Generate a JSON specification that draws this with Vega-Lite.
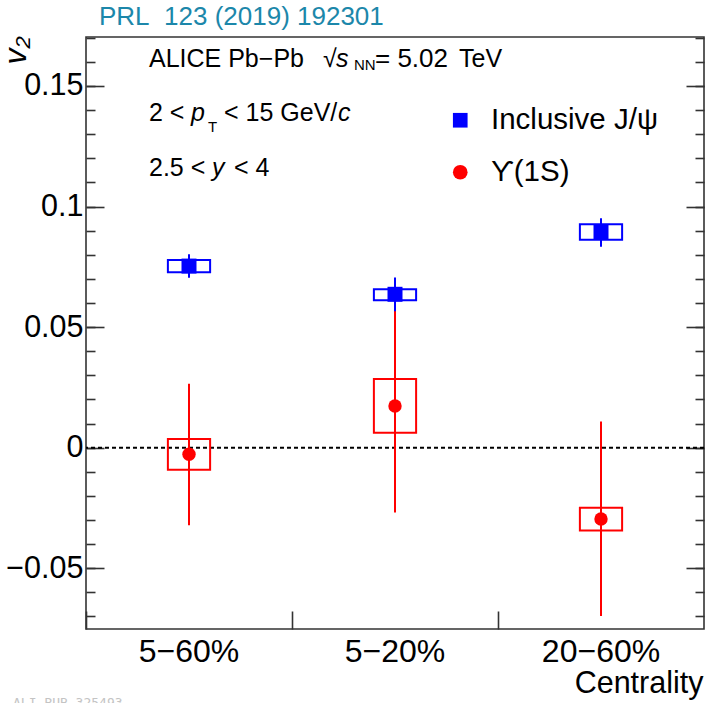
{
  "$schema": "https://vega.github.io/schema/vega-lite/v6.json",
  "width": 618,
  "height": 592,
  "autosize": {"type": "none"},
  "padding": {"left": 86, "top": 37, "right": 2, "bottom": 74},
  "background": "white",
  "config": {
    "font": "Liberation Sans",
    "view": {"stroke": "#333333", "strokeWidth": 1.6},
    "axis": {"domain": false, "grid": false, "tickColor": "#333333", "tickWidth": 1.6, "labelFont": "Liberation Sans", "titleFont": "Liberation Sans", "labelColor": "black", "titleColor": "black"},
    "legend": {"labelFont": "Liberation Sans", "labelColor": "black"}
  },
  "title": {"text": "PRL\u00a0 123 (2019) 192301", "anchor": "start", "frame": "group", "font": "Liberation Sans", "fontSize": 26, "fontWeight": "normal", "color": "#1c87aa", "dx": 13, "dy": 26, "offset": 11, "baseline": "alphabetic"},
  "data": {"values": [
    {"centrality": "5−60%", "particle": "ϒ(1S)", "v2": -0.0027, "stat_lo": -0.0322, "stat_hi": 0.0265, "sys_lo": -0.0092, "sys_hi": 0.0036},
    {"centrality": "5−20%", "particle": "ϒ(1S)", "v2": 0.0173, "stat_lo": -0.0269, "stat_hi": 0.0615, "sys_lo": 0.0062, "sys_hi": 0.0285},
    {"centrality": "20−60%", "particle": "ϒ(1S)", "v2": -0.0296, "stat_lo": -0.0698, "stat_hi": 0.0108, "sys_lo": -0.0344, "sys_hi": -0.0249},
    {"centrality": "5−60%", "particle": "Inclusive J/ψ", "v2": 0.0753, "stat_lo": 0.0705, "stat_hi": 0.0802, "sys_lo": 0.0727, "sys_hi": 0.0778},
    {"centrality": "5−20%", "particle": "Inclusive J/ψ", "v2": 0.0636, "stat_lo": 0.0566, "stat_hi": 0.0706, "sys_lo": 0.0611, "sys_hi": 0.0657},
    {"centrality": "20−60%", "particle": "Inclusive J/ψ", "v2": 0.0893, "stat_lo": 0.0833, "stat_hi": 0.0951, "sys_lo": 0.0862, "sys_hi": 0.0926}
  ]},
  "layer": [
    {
      "data": {"values": [{}]},
      "mark": {"type": "rule", "stroke": "black", "strokeWidth": 2, "strokeDash": [4, 3]},
      "encoding": {
        "y": {"datum": 0, "type": "quantitative", "scale": {"domain": [-0.0752, 0.1703], "nice": false, "zero": false},
              "axis": {"orient": "right", "values": [-0.07,-0.06,-0.05,-0.04,-0.03,-0.02,-0.01,0,0.01,0.02,0.03,0.04,0.05,0.06,0.07,0.08,0.09,0.1,0.11,0.12,0.13,0.14,0.15,0.16,0.17], "labels": false, "tickSize": -9, "title": null}}
      }
    },
    {
      "mark": {"type": "bar", "filled": false, "strokeWidth": 2, "width": {"band": 0.205}},
      "encoding": {
        "x": {"field": "centrality", "type": "nominal", "sort": ["5−60%", "5−20%", "20−60%"],
              "scale": {"type": "band", "domain": ["5−60%", "5−20%", "20−60%"], "paddingInner": 0, "paddingOuter": 0},
              "axis": {"orient": "bottom", "ticks": false, "labelAngle": 0, "labelFontSize": 32, "labelPadding": 32, "labelBaseline": "alphabetic", "title": "Centrality", "titleFontSize": 30.5, "titleFontWeight": "normal", "titleAnchor": "end", "titleAlign": "right", "titleBaseline": "alphabetic", "titleX": 617, "titleY": 63}},
        "y": {"field": "sys_lo", "type": "quantitative", "scale": {"domain": [-0.0752, 0.1703], "nice": false, "zero": false},
              "axis": {"orient": "left", "values": [-0.05, 0, 0.05, 0.1, 0.15], "ticks": false, "format": ".2~f", "labelFontSize": 30.5, "labelPadding": 3, "title": "v₂", "titleFontSize": 32, "titleFontStyle": "italic", "titleFontWeight": "normal", "titleAngle": 270, "titleAlign": "center", "titleBaseline": "alphabetic", "titleX": -61, "titleY": 13}},
        "y2": {"field": "sys_hi"},
        "color": {"condition": {"test": "datum.particle === 'ϒ(1S)'", "value": "#ff0000"}, "value": "#0000ff"}
      }
    },
    {
      "mark": {"type": "rule", "strokeWidth": 2},
      "encoding": {
        "x": {"field": "centrality", "type": "nominal", "sort": ["5−60%", "5−20%", "20−60%"],
              "scale": {"type": "band", "domain": ["5−60%", "5−20%", "20−60%"], "paddingInner": 0, "paddingOuter": 0},
              "axis": {"orient": "bottom", "bandPosition": 0, "labels": false, "tickSize": -18, "title": null}},
        "y": {"field": "stat_lo", "type": "quantitative", "scale": {"domain": [-0.0752, 0.1703], "nice": false, "zero": false},
              "axis": {"orient": "left", "values": [-0.05, 0, 0.05, 0.1, 0.15], "labels": false, "tickSize": -18, "title": null}},
        "y2": {"field": "stat_hi"},
        "color": {"condition": {"test": "datum.particle === 'ϒ(1S)'", "value": "#ff0000"}, "value": "#0000ff"}
      }
    },
    {
      "mark": {"type": "point", "filled": true, "opacity": 1},
      "encoding": {
        "x": {"field": "centrality", "type": "nominal", "sort": ["5−60%", "5−20%", "20−60%"],
              "scale": {"type": "band", "domain": ["5−60%", "5−20%", "20−60%"], "paddingInner": 0, "paddingOuter": 0}, "axis": null},
        "y": {"field": "v2", "type": "quantitative", "scale": {"domain": [-0.0752, 0.1703], "nice": false, "zero": false},
              "axis": {"orient": "left", "values": [-0.07,-0.06,-0.05,-0.04,-0.03,-0.02,-0.01,0,0.01,0.02,0.03,0.04,0.05,0.06,0.07,0.08,0.09,0.1,0.11,0.12,0.13,0.14,0.15,0.16,0.17], "labels": false, "tickSize": -9, "title": null}},
        "color": {"field": "particle", "type": "nominal", "scale": {"domain": ["Inclusive J/ψ", "ϒ(1S)"], "range": ["#0000ff", "#ff0000"]},
                  "legend": {"orient": "none", "legendX": 359.5, "legendY": 68.5, "title": null, "labelFontSize": 29.5, "symbolSize": 215, "labelOffset": 16, "rowPadding": 21, "labelLimit": 300,
                             "encode": {"labels": {"update": {"font": {"signal": "datum.label === 'ϒ(1S)' ? 'DejaVu Sans' : 'Liberation Sans'"}}}}}},
        "shape": {"field": "particle", "type": "nominal", "scale": {"domain": ["Inclusive J/ψ", "ϒ(1S)"], "range": ["square", "circle"]},
                  "legend": {"orient": "none", "legendX": 359.5, "legendY": 68.5, "title": null, "labelFontSize": 29.5, "symbolSize": 215, "labelOffset": 16, "rowPadding": 21, "labelLimit": 300,
                             "encode": {"labels": {"update": {"font": {"signal": "datum.label === 'ϒ(1S)' ? 'DejaVu Sans' : 'Liberation Sans'"}}}}}},
        "size": {"condition": {"test": "datum.particle === 'ϒ(1S)'", "value": 180}, "value": 225}
      }
    },
    {
      "data": {"values": [{"note": "ALICE Pb−Pb"}]},
      "mark": {"type": "text", "align": "left", "baseline": "alphabetic", "fontSize": 25, "dx": -40},
      "encoding": {
        "text": {"field": "note"},
        "x": {"datum": "5−60%", "axis": null},
        "y": {"datum": 0.1579, "type": "quantitative", "scale": {"domain": [-0.0752, 0.1703], "nice": false, "zero": false},
              "axis": {"orient": "right", "values": [-0.05, 0, 0.05, 0.1, 0.15], "labels": false, "tickSize": -18, "title": null}}
      }
    },
    {
      "data": {"values": [{"note": "√"}]},
      "mark": {"type": "text", "align": "left", "baseline": "alphabetic", "fontSize": 25, "dx": 134},
      "encoding": {"text": {"field": "note"}, "x": {"datum": "5−60%", "axis": null}, "y": {"datum": 0.1579, "type": "quantitative", "axis": null}}
    },
    {
      "data": {"values": [{"note": "s"}]},
      "mark": {"type": "text", "align": "left", "baseline": "alphabetic", "fontSize": 25, "fontStyle": "italic", "dx": 147},
      "encoding": {"text": {"field": "note"}, "x": {"datum": "5−60%", "axis": null}, "y": {"datum": 0.1579, "type": "quantitative", "axis": null}}
    },
    {
      "data": {"values": [{"note": "NN"}]},
      "mark": {"type": "text", "align": "left", "baseline": "alphabetic", "fontSize": 15, "dx": 165, "dy": 3},
      "encoding": {"text": {"field": "note"}, "x": {"datum": "5−60%", "axis": null}, "y": {"datum": 0.1579, "type": "quantitative", "axis": null}}
    },
    {
      "data": {"values": [{"note": "= 5.02"}]},
      "mark": {"type": "text", "align": "left", "baseline": "alphabetic", "fontSize": 26, "dx": 186},
      "encoding": {"text": {"field": "note"}, "x": {"datum": "5−60%", "axis": null}, "y": {"datum": 0.1579, "type": "quantitative", "axis": null}}
    },
    {
      "data": {"values": [{"note": "TeV"}]},
      "mark": {"type": "text", "align": "left", "baseline": "alphabetic", "fontSize": 25, "dx": 270},
      "encoding": {"text": {"field": "note"}, "x": {"datum": "5−60%", "axis": null}, "y": {"datum": 0.1579, "type": "quantitative", "axis": null}}
    },
    {
      "data": {"values": [{"note": "2 <"}]},
      "mark": {"type": "text", "align": "left", "baseline": "alphabetic", "fontSize": 25, "dx": -40},
      "encoding": {"text": {"field": "note"}, "x": {"datum": "5−60%", "axis": null}, "y": {"datum": 0.1355, "type": "quantitative", "axis": null}}
    },
    {
      "data": {"values": [{"note": "p"}]},
      "mark": {"type": "text", "align": "left", "baseline": "alphabetic", "fontSize": 25, "fontStyle": "italic", "dx": 2},
      "encoding": {"text": {"field": "note"}, "x": {"datum": "5−60%", "axis": null}, "y": {"datum": 0.1355, "type": "quantitative", "axis": null}}
    },
    {
      "data": {"values": [{"note": "T"}]},
      "mark": {"type": "text", "align": "left", "baseline": "alphabetic", "fontSize": 15, "dx": 19, "dy": 11},
      "encoding": {"text": {"field": "note"}, "x": {"datum": "5−60%", "axis": null}, "y": {"datum": 0.1355, "type": "quantitative", "axis": null}}
    },
    {
      "data": {"values": [{"note": "< 15 GeV/"}]},
      "mark": {"type": "text", "align": "left", "baseline": "alphabetic", "fontSize": 25, "dx": 35},
      "encoding": {"text": {"field": "note"}, "x": {"datum": "5−60%", "axis": null}, "y": {"datum": 0.1355, "type": "quantitative", "axis": null}}
    },
    {
      "data": {"values": [{"note": "c"}]},
      "mark": {"type": "text", "align": "left", "baseline": "alphabetic", "fontSize": 25, "fontStyle": "italic", "dx": 149},
      "encoding": {"text": {"field": "note"}, "x": {"datum": "5−60%", "axis": null}, "y": {"datum": 0.1355, "type": "quantitative", "axis": null}}
    },
    {
      "data": {"values": [{"note": "2.5 <"}]},
      "mark": {"type": "text", "align": "left", "baseline": "alphabetic", "fontSize": 25, "dx": -40},
      "encoding": {"text": {"field": "note"}, "x": {"datum": "5−60%", "axis": null}, "y": {"datum": 0.1127, "type": "quantitative", "axis": null}}
    },
    {
      "data": {"values": [{"note": "y"}]},
      "mark": {"type": "text", "align": "left", "baseline": "alphabetic", "fontSize": 25, "fontStyle": "italic", "dx": 23},
      "encoding": {"text": {"field": "note"}, "x": {"datum": "5−60%", "axis": null}, "y": {"datum": 0.1127, "type": "quantitative", "axis": null}}
    },
    {
      "data": {"values": [{"note": "< 4"}]},
      "mark": {"type": "text", "align": "left", "baseline": "alphabetic", "fontSize": 25, "dx": 45},
      "encoding": {"text": {"field": "note"}, "x": {"datum": "5−60%", "axis": null}, "y": {"datum": 0.1127, "type": "quantitative", "axis": null}}
    },
    {
      "data": {"values": [{"note": "ALI-PUB-325493"}]},
      "mark": {"type": "text", "align": "left", "baseline": "alphabetic", "fontSize": 13, "font": "DejaVu Sans Mono", "fill": "#c4c4c4", "dx": -176},
      "encoding": {"text": {"field": "note"}, "x": {"datum": "5−60%", "axis": null}, "y": {"datum": -0.1075, "type": "quantitative", "axis": null}}
    }
  ],
  "resolve": {"axis": {"x": "independent", "y": "independent"}}
}
